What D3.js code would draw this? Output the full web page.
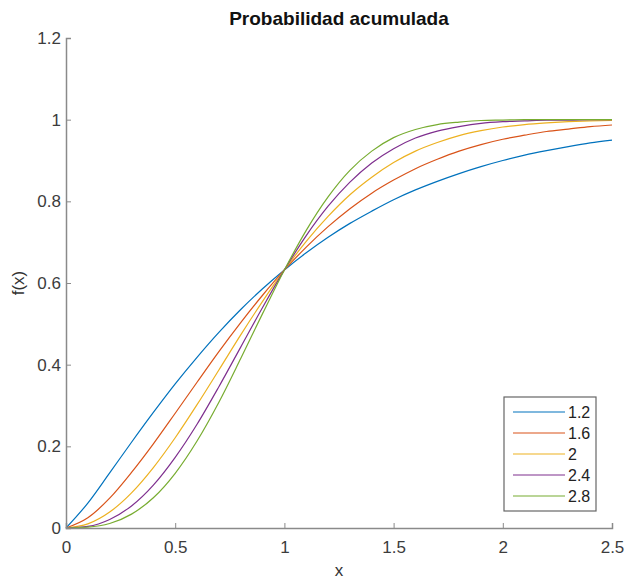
<!DOCTYPE html>
<html>
<head>
<meta charset="utf-8">
<script src="https://cdn.jsdelivr.net/npm/d3@7"></script>
<style>
  body { margin: 0; background: #fff; }
  svg { font-family: "Liberation Sans", Arial, sans-serif; }
  .axis path, .axis line { stroke: #8a8a8a; }
  .axis text { fill: #3c3c3c; font-size: 17px; }
</style>
</head>
<body>
<svg id="chart" width="625" height="584"></svg>
<script>
// x positions (shared by every series)
var xs = [0, 0.1, 0.2, 0.3, 0.4, 0.5, 0.6, 0.7, 0.8, 0.9, 1.0, 1.1, 1.2,
          1.3, 1.4, 1.5, 1.6, 1.7, 1.8, 1.9, 2.0, 2.1, 2.2, 2.3, 2.4, 2.5];

var labels = ["1.2", "1.6", "2", "2.4", "2.8"];
var colors = ["#0072BD", "#D95319", "#EDB120", "#7E2F8E", "#77AC30"];

var s12 = [0, 0.061, 0.135, 0.210, 0.283, 0.353, 0.418, 0.479, 0.535, 0.586, 0.632,
           0.674, 0.712, 0.746, 0.776, 0.804, 0.828, 0.849, 0.868, 0.885, 0.900,
           0.913, 0.924, 0.934, 0.943, 0.950];
var s16 = [0, 0.025, 0.073, 0.136, 0.206, 0.281, 0.357, 0.432, 0.503, 0.570, 0.632,
           0.688, 0.738, 0.782, 0.820, 0.852, 0.880, 0.903, 0.923, 0.939, 0.952,
           0.962, 0.971, 0.977, 0.983, 0.987];
var s20 = [0, 0.010, 0.039, 0.086, 0.148, 0.221, 0.302, 0.387, 0.473, 0.555, 0.632,
           0.702, 0.763, 0.816, 0.859, 0.895, 0.923, 0.944, 0.961, 0.973, 0.982,
           0.988, 0.992, 0.995, 0.997, 0.998];
var s24 = [0, 0.004, 0.021, 0.054, 0.105, 0.173, 0.254, 0.346, 0.443, 0.540, 0.632,
           0.716, 0.788, 0.847, 0.894, 0.929, 0.955, 0.972, 0.983, 0.991, 0.995,
           0.997, 0.999, 0.999, 1.000, 1.000];
var s28 = [0, 0.002, 0.011, 0.034, 0.074, 0.134, 0.213, 0.308, 0.415, 0.525, 0.632,
           0.729, 0.811, 0.876, 0.923, 0.956, 0.976, 0.988, 0.994, 0.998, 0.999,
           1.000, 1.000, 1.000, 1.000, 1.000];

var series = [s12, s16, s20, s24, s28];

var xTicks = [0, 0.5, 1, 1.5, 2, 2.5];
var yTicks = [0, 0.2, 0.4, 0.6, 0.8, 1, 1.2];

window.onload = function () {
    drawChart();
};

function drawChart() {
    var svg = d3.select("#chart"),
        margin = {top: 38, right: 13, bottom: 56, left: 66},
        width = +svg.attr("width") - margin.left - margin.right,
        height = +svg.attr("height") - margin.top - margin.bottom,
        g = svg.append("g").attr("transform", "translate(" + margin.left + "," + margin.top + ")");

    var x = d3.scaleLinear().domain([0, 2.5]).range([0, width]);
    var y = d3.scaleLinear().domain([0, 1.2]).range([height, 0]);

    var line = d3.line()
        .x(function(d) { return x(d[0]); })
        .y(function(d) { return y(d[1]); })
        .curve(d3.curveMonotoneX);

    g.selectAll(".curve")
        .data(series)
        .enter().append("path")
        .attr("class", "curve")
        .attr("fill", "none")
        .attr("stroke", function(d, i) { return colors[i]; })
        .attr("stroke-width", 1.2)
        .attr("d", function(d) {
            return line(d.map(function(v, i) { return [xs[i], v]; }));
        });

    // matlab style: ticks pointing inward
    g.append("g")
        .attr("class", "axis")
        .attr("transform", "translate(0," + height + ")")
        .call(d3.axisBottom(x).tickValues(xTicks).tickSizeInner(-5).tickSizeOuter(-5).tickPadding(13)
            .tickFormat(d3.format("")))
        .call(function(a) { a.select(".domain").attr("stroke-width", 1.5); });

    g.append("g")
        .attr("class", "axis")
        .call(d3.axisLeft(y).tickValues(yTicks).tickSizeInner(-5).tickSizeOuter(-5).tickPadding(5)
            .tickFormat(d3.format("")))
        .call(function(a) { a.select(".domain").attr("stroke-width", 1.5); });

    svg.append("text")
        .attr("x", margin.left + width / 2)
        .attr("y", 25)
        .attr("text-anchor", "middle")
        .attr("font-weight", "bold")
        .attr("font-size", 19)
        .attr("fill", "#111")
        .text("Probabilidad acumulada");

    svg.append("text")
        .attr("x", margin.left + width / 2)
        .attr("y", 576)
        .attr("text-anchor", "middle")
        .attr("font-size", 17)
        .attr("fill", "#333")
        .text("x");

    svg.append("text")
        .attr("transform", "translate(24," + (margin.top + height / 2) + ") rotate(-90)")
        .attr("text-anchor", "middle")
        .attr("font-size", 17)
        .attr("fill", "#333")
        .text("f(x)");

    // legend
    var lg = svg.append("g").attr("transform", "translate(504,397)");
    lg.append("rect")
        .attr("width", 92)
        .attr("height", 114)
        .attr("fill", "#fff")
        .attr("stroke", "#666")
        .attr("stroke-width", 1.2);

    var item = lg.selectAll(".item")
        .data(labels)
        .enter().append("g")
        .attr("class", "item")
        .attr("transform", function(d, i) { return "translate(0," + (15 + i * 21) + ")"; });

    item.append("line")
        .attr("x1", 9).attr("x2", 61)
        .attr("stroke", function(d, i) { return colors[i]; })
        .attr("stroke-width", 1.2);

    item.append("text")
        .attr("x", 64)
        .attr("dy", "0.35em")
        .attr("font-size", 16)
        .attr("fill", "#222")
        .text(function(d) { return d; });
}
</script>
</body>
</html>
